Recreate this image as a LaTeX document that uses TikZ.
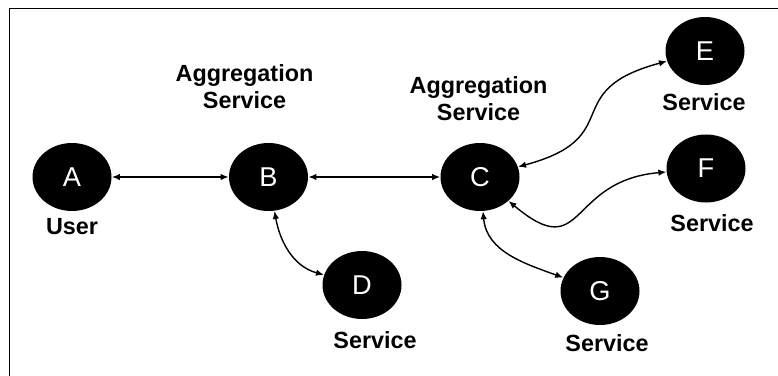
\documentclass[tikz,border=0pt]{standalone}
\usepackage{fontspec}
\setmainfont{Liberation Sans}
\usetikzlibrary{arrows.meta,positioning,shapes.geometric}

\begin{document}
\begin{tikzpicture}[line join=round,line cap=round,>={Latex[length=1.6mm,width=1.3mm]},
	font=\fontsize{13.3}{15.3}\selectfont,
	peer/.style={ellipse,fill=black,text=white,inner sep=0pt,minimum width=1.58cm,minimum height=1.36cm,font=\fontsize{15.5}{17}\selectfont},
	role/.style={font=\fontsize{13.3}{15.3}\selectfont\bfseries,inner sep=0pt,align=center},
	link/.style={<->,line width=0.8pt}]
	\useasboundingbox (0,0) rectangle (15.56,7.5);
	\draw[line width=1.1pt] (0.19,-0.2) -- (0.19,7.33) -- (15.8,7.33);
	% peers
	\node[peer] (A) at (1.44,3.96) {A};
	\node[peer] (B) at (5.37,3.96) {B};
	\node[peer] (C) at (9.60,3.96) {C};
	\node[peer] (D) at (7.24,1.80) {D};
	\node[peer] (E) at (14.10,6.48) {E};
	\node[peer] (F) at (14.12,4.13) {F};
	\node[peer] (G) at (12.00,1.68) {G};
	% roles
	\node[role,below=0.13cm of A] (userA) {User};
	\node[role,above=0.68cm of B,xshift=-0.48cm] (aggB) {Aggregation\\Service};
	\node[role,above=0.44cm of C,xshift=-0.03cm] (aggC) {Aggregation\\Service};
	\node[role,below=0.24cm of D,xshift=0.26cm] (srvD) {Service};
	\node[role,below=0.16cm of E,xshift=-0.02cm] (srvE) {Service};
	\node[role,below=0.22cm of F,xshift=0.12cm] (srvF) {Service};
	\node[role,below=0.18cm of G,xshift=0.14cm] (srvG) {Service};
	% links
	\draw[link] (A) -- (B);
	\draw[link] (B) -- (C);
	\draw[link] (B) to[out=-80,in=165] (D);
	\draw[link] (C) to[out=15,in=195,looseness=1.6] (E);
	\draw[link] (C) to[out=-40,in=185,looseness=1.6] (F);
	\draw[link] (C) to[out=-85,in=160] (G);
\end{tikzpicture}
\end{document}
